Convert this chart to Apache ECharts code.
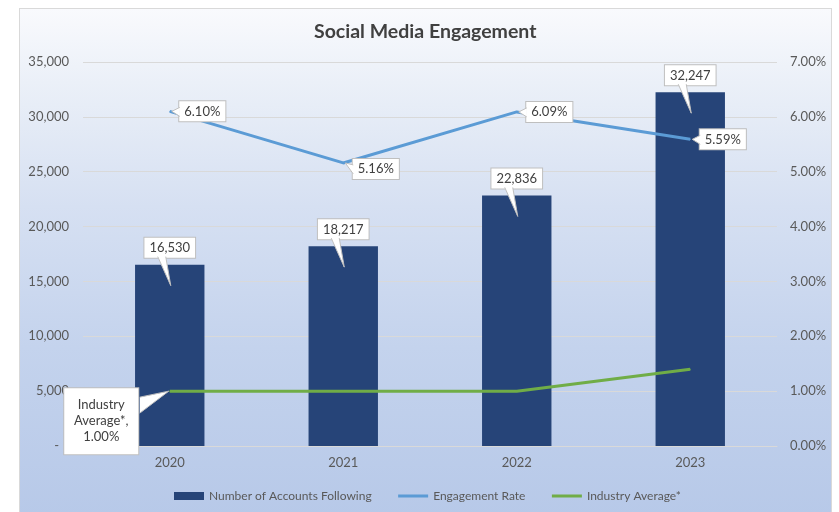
<!DOCTYPE html>
<html><head><meta charset="utf-8">
<script src="https://cdn.jsdelivr.net/npm/echarts@6/dist/echarts.min.js"></script>
<style>
html,body{margin:0;padding:0;background:#fff;}
#frame{position:absolute;left:19px;top:8px;width:811px;height:520px;border:1px solid #d9d9d9;
 background:linear-gradient(to bottom,#f9fafd 0%,#ebf0f8 14%,#d6e0f2 38%,#c4d3ed 65%,#b6c8e8 100%);}
#chart{position:absolute;left:0;top:0;width:839px;height:512px;}
</style></head>
<body>
<div id="frame"></div>
<div id="chart"></div>
<script>
const categories = ['2020','2021','2022','2023'];
const accountsFollowing = [16530, 18217, 22836, 32247];
const engagementRate = [6.10, 5.16, 6.09, 5.59];
const industryAverage = [1.00, 1.00, 1.00, 1.40];
const leftTicks = [0, 5000, 10000, 15000, 20000, 25000, 30000, 35000];
const rightTicks = [0, 1, 2, 3, 4, 5, 6, 7];

const FONT = 'Lato';
const BORDER = '#bfbfbf';
const chart = echarts.init(document.getElementById('chart'), null, {renderer:'canvas'});
const boxLabel = {
  backgroundColor:'#ffffff', borderColor:BORDER, borderWidth:1,
  padding:[4,5,3,5], color:'#404040', fontSize:13, fontFamily:FONT
};

// callout tails drawn through the axes' own scales
function tailItem(kind){
  return function(params, api){
    const p = api.coord([api.value(0), api.value(1)]);
    let pts;
    if (kind === 'bar') {
      const boxBottom = p[1] - 8;
      pts = [[p[0]-12, boxBottom], [p[0]+1, p[1]+21], [p[0]-4, boxBottom]];
    } else if (kind === 'rate') {
      const dy = params.dataIndex === 1 ? 6 : 0;
      pts = [[p[0]+10, p[1]-4+dy], [p[0]+2, p[1]], [p[0]+10, p[1]+5+dy]];
    } else {
      if (params.dataIndex !== 0) return null;
      pts = [[p[0]-30, p[1]+6], [p[0]-1, p[1]], [p[0]-30, p[1]+22]];
    }
    return {type:'group', children:[
      {type:'polygon', shape:{points:pts}, style:{fill:'#ffffff', stroke:null}},
      {type:'polyline', shape:{points:pts}, style:{fill:null, stroke:BORDER, lineWidth:1}}
    ]};
  };
}

const rateData = engagementRate.map((v,i)=> i===1 ? {value:v, label:{offset:[0,6]}} : v);
const industryData = industryAverage.map((v,i)=> i===0 ? {value:v, label:{show:true}} : v);

chart.setOption({
  backgroundColor:'transparent',
  animation:false,
  title:{text:'Social Media Engagement', left:309, top:17,
    textStyle:{fontFamily:FONT, fontSize:19.5, fontWeight:'bold', color:'#404040'}},
  grid:{left:83, right:62, top:62, bottom:66},
  legend:{top:485, left:169, itemGap:25, itemWidth:30, itemHeight:8,
    textStyle:{fontFamily:FONT, fontSize:12, color:'#595959'},
    data:[{name:'Number of Accounts Following', icon:'rect'},
          {name:'Engagement Rate', itemStyle:{opacity:0}, lineStyle:{width:3}},
          {name:'Industry Average*', itemStyle:{opacity:0}, lineStyle:{width:3}}]},
  xAxis:{type:'category', data:categories,
    axisLine:{lineStyle:{color:'#d9d9d9'}}, axisTick:{show:false},
    axisLabel:{fontFamily:FONT, fontSize:13, color:'#595959', margin:10}},
  yAxis:[
    {type:'value', min:leftTicks[0], max:leftTicks[leftTicks.length-1], interval:5000,
     axisLine:{show:false}, axisTick:{show:false},
     splitLine:{lineStyle:{color:'#d9d9d9'}},
     axisLabel:{fontFamily:FONT, fontSize:13, color:'#595959', margin:14,
       formatter:v=> v===0 ? '-   ' : v.toLocaleString('en-US')}},
    {type:'value', min:rightTicks[0], max:rightTicks[rightTicks.length-1], interval:1,
     axisLine:{show:false}, axisTick:{show:false}, splitLine:{show:false},
     axisLabel:{fontFamily:FONT, fontSize:13, color:'#595959', margin:13,
       formatter:v=> v.toFixed(2)+'%'}}
  ],
  series:[
    {name:'Number of Accounts Following', type:'bar', data:accountsFollowing, barWidth:'40%',
     itemStyle:{color:'#264478'},
     label:Object.assign({show:true, position:'top', distance:7,
       formatter:p=>p.value.toLocaleString('en-US')}, boxLabel)},
    {name:'Engagement Rate', type:'line', yAxisIndex:1, data:rateData,
     symbol:'circle', symbolSize:1, showSymbol:true,
     lineStyle:{color:'#5b9bd5', width:3}, itemStyle:{color:'#5b9bd5'},
     label:Object.assign({show:true, position:'right', distance:9,
       formatter:p=>p.value.toFixed(2)+'%'}, boxLabel)},
    {name:'Industry Average*', type:'line', yAxisIndex:1, data:industryData,
     symbol:'circle', symbolSize:1, showSymbol:true,
     lineStyle:{color:'#70ad47', width:3}, itemStyle:{color:'#70ad47'},
     label:Object.assign({}, boxLabel, {show:false, position:'left', distance:31, offset:[0,30],
       padding:[9,9,9,9],
       formatter:p=> '{a|Industry}\n{a|Average*,}\n{a|'+p.value.toFixed(2)+'%}',
       rich:{a:{width:56, align:'center', lineHeight:16, fontSize:13, fontFamily:FONT, color:'#404040'}}})},
    {type:'custom', z:6, yAxisIndex:0, silent:true, renderItem:tailItem('bar'),
     data:accountsFollowing.map((v,i)=>[i,v])},
    {type:'custom', z:6, yAxisIndex:1, silent:true, renderItem:tailItem('rate'),
     data:engagementRate.map((v,i)=>[i,v])},
    {type:'custom', z:6, yAxisIndex:1, silent:true, renderItem:tailItem('ind'),
     data:industryAverage.map((v,i)=>[i,v])}
  ]
});
</script>
</body></html>
